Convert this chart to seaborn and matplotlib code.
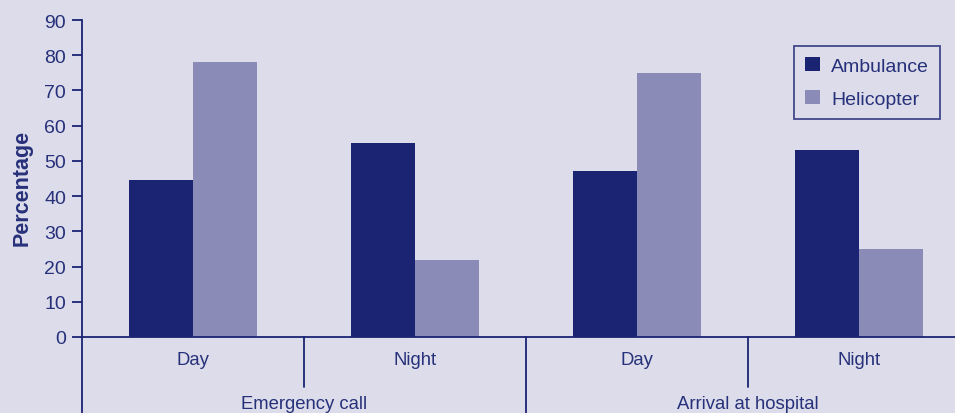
import matplotlib
matplotlib.use("Agg")
import matplotlib.pyplot as plt
import matplotlib.transforms as mtransforms
import seaborn as sns
import pandas as pd

# ---- data ----
conditions = ["Emergency call", "Emergency call", "Arrival at hospital", "Arrival at hospital"]
times = ["Day", "Night", "Day", "Night"]
ambulance = [44.5, 55.0, 47.0, 53.0]
helicopter = [78.0, 22.0, 75.0, 25.0]
series_names = ["Ambulance", "Helicopter"]
group_labels = ["Emergency call", "Arrival at hospital"]
yticks = [0, 10, 20, 30, 40, 50, 60, 70, 80, 90]

BG = "#dcdcea"
NAVY = "#1a2472"
LIGHT = "#8b8bb8"
TXT = "#27317a"

keys = [f"{c}|{t}" for c, t in zip(conditions, times)]
df = pd.DataFrame({
    "key": keys * 2,
    "value": ambulance + helicopter,
    "mode": [series_names[0]] * 4 + [series_names[1]] * 4,
})

sns.set_theme(style="white")
plt.rcParams["font.family"] = ["Liberation Sans", "DejaVu Sans"]

fig = plt.figure(figsize=(9.55, 4.14), dpi=100)
fig.patch.set_facecolor(BG)
ax = fig.add_axes([82 / 955, 76 / 414, 888 / 955, 317 / 414])
ax.set_facecolor(BG)

sns.barplot(data=df, x="key", y="value", hue="mode", order=keys,
            hue_order=series_names, palette=[NAVY, LIGHT], saturation=1,
            width=0.58, ax=ax, legend=True, linewidth=0, edgecolor="none")

ax.set_ylim(0, 90)
ax.set_xlim(-0.5, 3.5)
ax.set_yticks(yticks)
ax.set_yticklabels([str(v) for v in yticks], fontsize=14, color=TXT)
ax.tick_params(axis="y", direction="out", length=7.5, width=1.3, color=NAVY, pad=4, left=True)
ax.set_xticks([])
ax.set_xlabel("")
ax.set_ylabel("")
fig.text(22 / 955, (414 - 188) / 414, "Percentage", rotation=90, ha="center", va="center",
         fontsize=15.5, fontweight="bold", color=TXT)

for s in ["top", "right"]:
    ax.spines[s].set_visible(False)
for s in ["left", "bottom"]:
    ax.spines[s].set_color(NAVY)
    ax.spines[s].set_linewidth(1.3)

trans = mtransforms.blended_transform_factory(ax.transData, ax.transAxes)
px = 1 / 317.0
# extended y-axis line
ax.plot([-0.5, -0.5], [0, -80 * px], transform=trans, color=NAVY, lw=1.3, clip_on=False)
# separators
ax.plot([0.5, 0.5], [0, -50 * px], transform=trans, color=NAVY, lw=1.3, clip_on=False)
ax.plot([2.5, 2.5], [0, -50 * px], transform=trans, color=NAVY, lw=1.3, clip_on=False)
ax.plot([1.5, 1.5], [0, -80 * px], transform=trans, color=NAVY, lw=1.3, clip_on=False)

for i, t in enumerate(times):
    ax.text(i, -23 * px, t, transform=trans, ha="center", va="center", fontsize=13.3, color=TXT)
for g, lab in enumerate(group_labels):
    ax.text(0.5 + 2 * g, -67 * px, lab, transform=trans, ha="center", va="center", fontsize=13.3, color=TXT)

leg = ax.legend(loc="upper right", bbox_to_anchor=(0.966, 0.918), borderaxespad=0,
                frameon=True, fontsize=14, handlelength=0.75, handleheight=0.75,
                handletextpad=0.6, labelspacing=0.8, borderpad=0.55, fancybox=False)
leg.get_frame().set_facecolor(BG)
leg.get_frame().set_edgecolor(NAVY)
leg.get_frame().set_linewidth(1.3)
for t in leg.get_texts():
    t.set_color(TXT)

fig.savefig("out.png", dpi=100, facecolor=BG)
